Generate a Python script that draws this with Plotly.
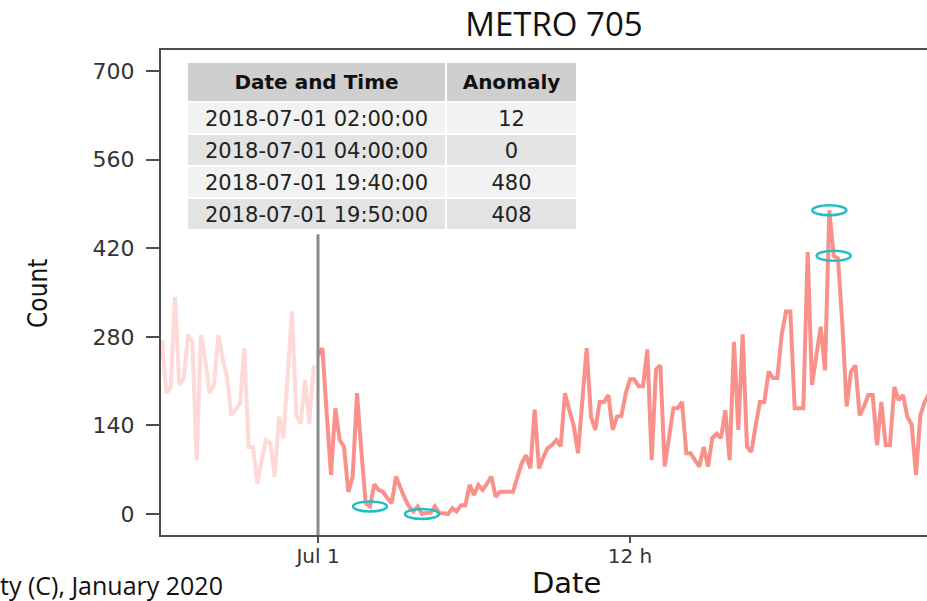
import pandas as pd
import plotly.graph_objects as go

# ---------------- data ----------------
pre_values = [275, 191, 200, 343, 204, 214, 283, 272, 85, 283, 243, 191,
              204, 283, 245, 217, 156, 165, 175, 262, 106, 106, 48, 85,
              117, 112, 59, 154, 120, 220, 320, 156, 143, 212, 143, 235]
pre_times = pd.date_range("2018-06-30 18:00", periods=len(pre_values), freq="10min")

post_values = [250, 262, 160, 62, 167, 117, 106, 35, 59, 191, 100, 17,
               12, 47, 38, 35, 25, 17, 59, 40, 25, 12, 4, 12,
               0, 2, 2, 12, 1, 1, 0, 9, 4, 14, 14, 46,
               30, 46, 38, 48, 59, 27, 35, 35, 35, 35, 58, 80,
               93, 72, 165, 72, 90, 104, 109, 117, 107, 191, 164, 140,
               96, 180, 262, 154, 133, 177, 177, 188, 133, 154, 155, 190,
               213, 213, 202, 202, 260, 85, 228, 235, 75, 120, 167, 167,
               177, 96, 96, 85, 75, 106, 75, 120, 127, 120, 164, 85,
               272, 133, 284, 106, 98, 140, 177, 177, 225, 215, 215, 283,
               320, 320, 167, 167, 167, 414, 204, 250, 296, 227, 480, 408,
               404, 300, 170, 225, 235, 156, 170, 188, 188, 109, 177, 109,
               109, 201, 180, 188, 154, 141, 62, 156, 177, 190]
post_times = pd.date_range("2018-07-01 00:00", periods=len(post_values), freq="10min")

anomaly_times = ["2018-07-01 02:00:00", "2018-07-01 04:00:00",
                 "2018-07-01 19:40:00", "2018-07-01 19:50:00"]
anomaly_values = [12, 0, 480, 408]

split_time = "2018-07-01 00:00:00"
vline_top = 442

tick_vals = ["2018-07-01 00:00:00", "2018-07-01 12:00:00"]
tick_text = ["Jul 1", "12 h"]
y_ticks = [0, 140, 280, 420, 560, 700]

table_header = ["<b>Date and Time</b>", "<b>Anomaly</b>"]

# ---------------- figure ----------------
W, H = 927, 601
L, R, T, B = 161, 0, 50, 66
PW, PH = W - L - R, H - T - B
Y0, Y1 = -33.2, 733.2


def px_x(px):
    return (px - L) / PW


def px_y(py):
    return (H - B - py) / PH


fig = go.Figure()

fig.add_trace(go.Scatter(x=pre_times, y=pre_values, mode="lines",
                         line=dict(color="rgba(248,118,109,0.27)", width=4),
                         showlegend=False, hoverinfo="skip"))
fig.add_trace(go.Scatter(x=post_times, y=post_values, mode="lines",
                         line=dict(color="rgba(248,118,109,0.8)", width=4),
                         showlegend=False))

# vertical marker line at the split
fig.add_shape(type="line", xref="x", yref="paper", x0=split_time, x1=split_time,
              y0=0, y1=(vline_top - Y0) / (Y1 - Y0),
              line=dict(color="#8a8a8a", width=3), layer="above")

# anomaly ellipses
for t, v in zip(anomaly_times, anomaly_values):
    fig.add_shape(type="circle", xref="x", yref="y",
                  xsizemode="pixel", ysizemode="pixel",
                  xanchor=t, yanchor=v, x0=-17, x1=17, y0=-5, y1=5,
                  line=dict(color="#1fbfc4", width=2.5), layer="above")

# inset table
fig.add_trace(go.Table(
    domain=dict(x=[px_x(187), px_x(577)], y=[px_y(260), px_y(62)]),
    columnwidth=[259, 131],
    header=dict(values=table_header,
                fill_color="#cfcfcf",
                line=dict(color="white", width=2),
                align="center", height=24,
                font=dict(family="DejaVu Sans", size=20, color="#111111")),
    cells=dict(values=[anomaly_times, anomaly_values],
               fill_color=[["#f2f2f2", "#e3e3e3", "#f2f2f2", "#e3e3e3"]] * 2,
               line=dict(color="white", width=2),
               align="center", height=32,
               font=dict(family="DejaVu Sans", size=21, color="#222222")),
))

x_left = pd.Timestamp(split_time) - pd.Timedelta(hours=(318 - L) / 26)
x_right = pd.Timestamp(split_time) + pd.Timedelta(hours=(W - 318) / 26)

fig.update_layout(
    width=W, height=H,
    margin=dict(l=L, r=R, t=T, b=B, pad=0, autoexpand=False),
    paper_bgcolor="white", plot_bgcolor="white",
    showlegend=False,
    title=dict(text="METRO 705", x=554 / W, y=1 - 24 / H,
               xanchor="center", yanchor="middle", xref="container", yref="container",
               font=dict(family="Open Sans", size=33, color="#111111")),
    xaxis=dict(range=[x_left, x_right], tickmode="array", automargin=False,
               tickvals=tick_vals, ticktext=tick_text,
               showgrid=False, zeroline=False,
               showline=True, linecolor="#4d4d4d", linewidth=2, mirror=True,
               ticks="outside", ticklen=6, tickwidth=2, tickcolor="#4d4d4d",
               ticklabelstandoff=-4,
               tickfont=dict(family="DejaVu Sans", size=20, color="#333333")),
    yaxis=dict(range=[Y0, Y1], tickmode="array", tickvals=y_ticks, automargin=False,
               showgrid=False, zeroline=False,
               showline=True, linecolor="#4d4d4d", linewidth=2,
               ticks="outside", ticklen=13, tickwidth=2, tickcolor="#4d4d4d",
               ticklabelstandoff=7,
               tickfont=dict(family="DejaVu Sans", size=22, color="#333333")),
    annotations=[
        dict(text="Count", xref="paper", yref="paper",
             x=px_x(38), y=px_y(294), textangle=-90,
             showarrow=False, xanchor="center", yanchor="middle",
             font=dict(family="DejaVu Sans Condensed, Liberation Sans Narrow, Open Sans", size=26, color="#111111")),
        dict(text="Date", xref="paper", yref="paper",
             x=px_x(566), y=px_y(583),
             showarrow=False, xanchor="center", yanchor="middle",
             font=dict(family="DejaVu Sans", size=29, color="#111111")),
        dict(text="ty (C), January 2020", xref="paper", yref="paper",
             x=px_x(-2), y=px_y(585),
             showarrow=False, xanchor="left", yanchor="middle",
             font=dict(family="Open Sans", size=25, color="#111111")),
    ],
)

fig.write_html("out.html", config={"displayModeBar": False},
               post_script="document.body.style.margin='0px';")
